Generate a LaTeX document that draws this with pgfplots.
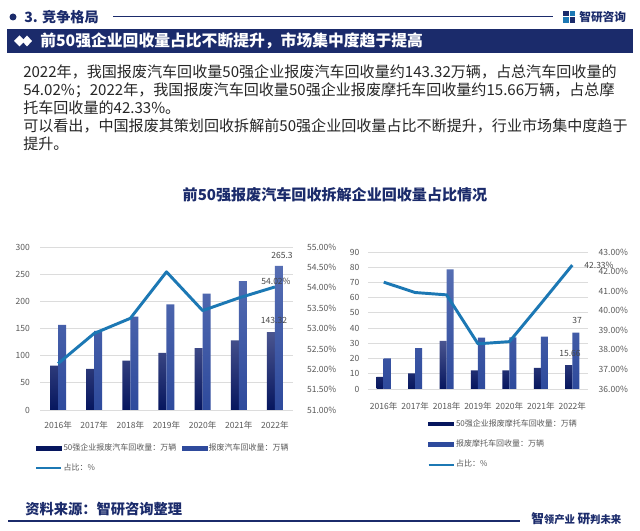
\documentclass[border=0pt]{standalone}
\usepackage{fontspec}
\setmainfont{Noto Sans CJK SC}
\usepackage{pgfplots}
\usepackage{pgfplotstable}
\pgfplotsset{compat=1.18}

\definecolor{navy}{HTML}{1B2B6B}
\definecolor{barDarkTop}{HTML}{4A5590}
\definecolor{barDarkBot}{HTML}{06165E}
\definecolor{barLightTop}{HTML}{566EB3}
\definecolor{barLightBot}{HTML}{2E4A9C}
\definecolor{lineBlue}{HTML}{1C78B4}
\definecolor{gridgray}{HTML}{DCDCDC}
\definecolor{textgray}{HTML}{595959}
\definecolor{bodytext}{HTML}{262626}

\pgfplotstableread{
x a b s
0 81.5 156.5 52.14
1 75.5 145.8 52.88
2 90.8 171.8 53.25
3 105.2 194.2 54.39
4 113.8 214.0 53.44
5 128.0 237.0 53.75
6 143.32 265.3 54.02
}\cartable

\pgfplotstableread{
x a b s
0 7.9 20.1 41.46
1 10.2 26.8 40.93
2 31.6 78.6 40.81
3 12.3 33.8 38.31
4 12.3 33.9 38.42
5 13.8 34.4 40.36
6 15.66 37 42.33
}\mototable

\pgfplotsset{
  base/.style={
    scale only axis, xmin=-0.5, xmax=6.5,
    axis line style={draw=none}, tick style={draw=none},
    ticklabel style={font=\fontsize{6.4}{7}\selectfont, text=textgray},
    /pgf/number format/assume math mode=true,
  },
  pct/.style={yticklabel={\pgfmathprintnumber[fixed,fixed zerofill,precision=2]{\tick}\%}},
}

\begin{document}
\begin{tikzpicture}[x=0.75pt,y=-0.75pt]
\useasboundingbox (0,0) rectangle (640,531);
\fill[white] (0,0) rectangle (640,531);

% header
\fill[navy] (13,17) circle (3.5);
\node[anchor=west, inner sep=0, font=\fontsize{10.6}{12}\selectfont\bfseries, text=navy] at (24,17) {3. 竞争格局};
\draw[navy, line width=0.75pt] (113,17) -- (553,17);
\fill[navy] (563,11) rectangle (568.5,16.5);
\fill[lineBlue] (569.5,11) rectangle (575,16.5);
\fill[lineBlue] (563,17.5) rectangle (568.5,23);
\fill[navy] (569.5,17.5) rectangle (575,23);
\node[anchor=west, inner sep=0, font=\fontsize{8.8}{10}\selectfont\bfseries, text=navy] at (579,17) {智研咨询};

% banner
\fill[navy] (7,29) rectangle (633,53);
\fill[white] (14,41) -- (19.5,35.5) -- (25,41) -- (19.5,46.5) -- cycle;
\fill[white] (22,41) -- (27,35.5) -- (32,41) -- (27,46.5) -- cycle;
\node[anchor=west, inner sep=0, text=white, font=\fontsize{11.85}{13}\selectfont\bfseries] at (40,41) {前50强企业回收量占比不断提升，市场集中度趋于提高};

% paragraph
\begin{scope}[every node/.style={anchor=west, inner sep=0, text=bodytext, font=\fontsize{11.3}{12}\selectfont}]
\node at (23,72) {2022年，我国报废汽车回收量50强企业报废汽车回收量约143.32万辆，占总汽车回收量的};
\node at (23,90) {54.02\%；2022年，我国报废汽车回收量50强企业报废摩托车回收量约15.66万辆，占总摩};
\node at (23,108) {托车回收量的42.33\%。};
\node at (23,126) {可以看出，中国报废其策划回收拆解前50强企业回收量占比不断提升，行业市场集中度趋于};
\node at (23,144) {提升。};
\end{scope}

% chart title
\node[inner sep=0, text=navy, font=\fontsize{11.3}{12}\selectfont\bfseries] at (335,195) {前50强报废汽车回收拆解企业回收量占比情况};

% ---------- left chart ----------
\begin{axis}[base,
  at={(30pt,-307.5pt)}, anchor=south west,
  width=189.75pt, height=122.25pt,
  ymin=0, ymax=300, ytick={0,50,...,300},
  ymajorgrids, grid style={draw=gridgray, line width=0.6pt},
  xtick={0,...,6}, xticklabels={2016年,2017年,2018年,2019年,2020年,2021年,2022年},
  xticklabel style={yshift=-1pt},
  yticklabel style={xshift=-4pt},
  ybar=0pt, bar width=6pt,
]
\addplot[draw=none, top color=barDarkTop, bottom color=barDarkBot] table[x=x,y=a]{\cartable};
\addplot[draw=none, top color=barLightTop, bottom color=barLightBot] table[x=x,y=b]{\cartable};
\end{axis}
\begin{axis}[base, pct,
  at={(30pt,-307.5pt)}, anchor=south west,
  width=189.75pt, height=122.25pt,
  ymin=51, ymax=55, ytick={51,51.5,...,55},
  axis y line*=right, xtick=\empty,
  yticklabel style={xshift=7pt},
  legend columns=2, legend cell align=left,
  legend style={draw=none, fill=none, at={(axis description cs:-0.02,-0.2)}, anchor=north west,
    font=\fontsize{6}{7}\selectfont, text=textgray, inner sep=0pt, row sep=6pt,
    nodes={inner sep=1pt},
    /tikz/every even column/.append style={column sep=3pt}},
]
\addlegendimage{legend image code/.code={\fill[barDarkBot] (0pt,-1.4pt) rectangle (18.75pt,1.4pt);}}
\addlegendentry{50强企业报废汽车回收量：万辆}
\addlegendimage{legend image code/.code={\fill[barLightBot] (0pt,-1.4pt) rectangle (18.75pt,1.4pt);}}
\addlegendentry{报废汽车回收量：万辆}
\addplot[lineBlue, line width=2.2pt, line join=round, mark=none,
  legend image code/.code={\draw[lineBlue, line width=1.5pt] (0pt,0pt) -- (18.75pt,0pt);}]
  table[x=x,y=s]{\cartable};
\addlegendentry{占比：\%}
\end{axis}

% ---------- right chart ----------
\begin{axis}[base,
  at={(276pt,-291.75pt)}, anchor=south west,
  width=165pt, height=102.75pt,
  ymin=0, ymax=90, ytick={0,10,...,90},
  ymajorgrids, grid style={draw=gridgray, line width=0.6pt},
  xtick={0,...,6}, xticklabels={2016年,2017年,2018年,2019年,2020年,2021年,2022年},
  xticklabel style={yshift=-2.5pt},
  yticklabel style={xshift=-3pt},
  ybar=0pt, bar width=5.3pt,
]
\addplot[draw=none, top color=barDarkTop, bottom color=barDarkBot] table[x=x,y=a]{\mototable};
\addplot[draw=none, top color=barLightTop, bottom color=barLightBot] table[x=x,y=b]{\mototable};
\end{axis}
\begin{axis}[base, pct,
  at={(276pt,-291.75pt)}, anchor=south west,
  width=165pt, height=102.75pt,
  ymin=36, ymax=43, ytick={36,...,43},
  axis y line*=right, xtick=\empty,
  yticklabel style={xshift=4.5pt},
  legend columns=1, legend cell align=left,
  legend style={draw=none, fill=none, at={(axis description cs:0.27,-0.21)}, anchor=north west,
    font=\fontsize{6}{7}\selectfont, text=textgray, inner sep=0pt, row sep=6.7pt,
    nodes={inner sep=1pt}},
]
\addlegendimage{legend image code/.code={\fill[barDarkBot] (0pt,-1.4pt) rectangle (18.75pt,1.4pt);}}
\addlegendentry{50强企业报废摩托车回收量：万辆}
\addlegendimage{legend image code/.code={\fill[barLightBot] (0pt,-1.4pt) rectangle (18.75pt,1.4pt);}}
\addlegendentry{报废摩托车回收量：万辆}
\addplot[lineBlue, line width=2.2pt, line join=round, mark=none,
  legend image code/.code={\draw[lineBlue, line width=1.5pt] (0pt,0pt) -- (18.75pt,0pt);}]
  table[x=x,y=s]{\mototable};
\addlegendentry{占比：\%}
\end{axis}

% data labels
\begin{scope}[every node/.style={inner sep=0, text=textgray!80!black, font=\fontsize{6.4}{7}\selectfont}]
\node at (282,255) {265.3};
\node at (276,281) {54.02\%};
\node at (274,320) {143.32};
\node at (577,320) {37};
\node at (570,353) {15.66};
\node at (599,265) {42.33\%};
\end{scope}

% footer
\node[anchor=west, inner sep=0, text=navy, font=\fontsize{10.7}{12}\selectfont\bfseries] at (25,509) {资料来源：智研咨询整理};
\draw[navy, line width=1.1pt] (8,521) -- (520,521);
\node[anchor=west, inner sep=0, text=navy, font=\fontsize{9.5}{10}\selectfont\bfseries] at (531,519) {智\fontsize{7.8}{9}\selectfont 领产业\ \fontsize{9.5}{10}\selectfont 研\fontsize{7.8}{9}\selectfont 判未来};
\end{tikzpicture}
\end{document}
